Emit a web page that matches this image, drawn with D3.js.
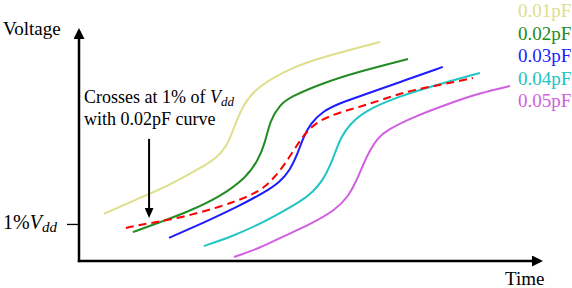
<!DOCTYPE html>
<html>
<head>
<meta charset="utf-8">
<script src="https://cdn.jsdelivr.net/npm/d3@7"></script>
<style>
  body { margin: 0; background: #fff; }
  svg { display: block; font-family: "Liberation Serif", "DejaVu Serif", serif; }
</style>
</head>
<body>
<div class="chart"></div>
<script>
// capacitance labels and their colours
const loadLabels = ['0.01pF', '0.02pF', '0.03pF', '0.04pF', '0.05pF']
const loadColors = ['#dede8c', '#228b22', '#1c1cff', '#22c4c4', '#d060e0']

// [time, voltage], both in 0..100 units
const curve001 = [[5.4, 20.2], [12.5, 26.6], [19.6, 32.6], [26.1, 39.9], [29.7, 44.2], [31.9, 49.4],
    [33.2, 56.2], [35.3, 67.0], [38.4, 74.7], [45.5, 82.8], [52.6, 87.6], [64.9, 94.0]]
const curve002 = [[11.6, 12.4], [17.5, 16.7], [23.3, 21.0], [30.4, 27.5], [36.2, 36.1], [38.6, 43.3],
    [40.1, 50.6], [41.2, 60.5], [43.3, 67.0], [45.5, 70.4], [52.6, 76.4], [59.9, 81.1], [70.9, 86.7]]
const curve003 = [[19.4, 9.9], [26.7, 16.3], [34.1, 23.2], [40.1, 29.6], [43.3, 33.9], [45.5, 39.1],
    [47.0, 45.5], [48.3, 52.8], [49.8, 58.8], [52.6, 64.4], [56.3, 67.8], [61.2, 71.2], [69.2, 76.8], [78.4, 83.3]]
const curve004 = [[26.9, 6.4], [33.2, 10.7], [39.0, 15.9], [43.3, 20.6], [47.6, 25.3], [50.4, 29.6],
    [52.6, 34.8], [54.1, 40.8], [55.4, 47.6], [56.5, 53.2], [58.4, 58.8], [61.6, 64.4], [68.5, 70.4],
    [77.8, 76.0], [86.4, 80.7]]
const curve005 = [[33.4, 1.7], [39.0, 5.6], [43.3, 9.9], [50.4, 16.3], [55.2, 21.9], [58.0, 27.5],
    [59.9, 34.8], [61.2, 41.2], [62.7, 47.6], [64.4, 52.8], [66.4, 56.2], [72.0, 61.8], [80.0, 67.8],
    [86.4, 72.1], [92.9, 75.1]]
// red dashed reference curve
const crossCurve = [[10.1, 14.2], [15.3, 16.3], [21.8, 18.5], [30.4, 23.2], [36.9, 27.9], [40.1, 31.8],
    [42.2, 36.1], [44.4, 41.6], [47.0, 49.8], [49.1, 55.8], [51.9, 60.5], [56.3, 63.9], [61.2, 66.5],
    [67.0, 70.4], [72.0, 73.4], [78.9, 76.0], [84.9, 78.5]]

const vddLevel = 15.9          // 1% Vdd tick
const pointerTime = 15.1       // annotation arrow
const pointerFrom = 52.4
const pointerTo = 18.5

class SketchChart {
    constructor() {
        this.fullWidth = 572
        this.fullHeight = 288
        this.curves = [curve001, curve002, curve003, curve004, curve005]
    }

    render() {
        this.svg = d3.select('.chart').append('svg')
            .attr('width', this.fullWidth)
            .attr('height', this.fullHeight)
        this.createMarkers()
        this.xScale = d3.scaleLinear().domain([0, 100]).range([79, 543])
        this.yScale = d3.scaleLinear().domain([0, 100]).range([261, 28])
        this.createAxes()
        this.createCurves()
        this.createLabels()
        this.createAnnotation()
    }

    createMarkers() {
        let defs = this.svg.append('defs')
        defs.append('marker')
            .attr('id', 'axisHead')
            .attr('viewBox', '0 0 11 11')
            .attr('refX', 8).attr('refY', 5.5)
            .attr('markerWidth', 11).attr('markerHeight', 11)
            .attr('markerUnits', 'userSpaceOnUse')
            .attr('orient', 'auto')
          .append('path').attr('d', 'M0,0L11,5.5L0,11Z').attr('fill', '#000')
        defs.append('marker')
            .attr('id', 'pointerHead')
            .attr('viewBox', '0 0 10 9')
            .attr('refX', 7).attr('refY', 4.5)
            .attr('markerWidth', 10).attr('markerHeight', 9)
            .attr('markerUnits', 'userSpaceOnUse')
            .attr('orient', 'auto')
          .append('path').attr('d', 'M0,0L10,4.5L0,9Z').attr('fill', '#000')
    }

    createAxes() {
        let x0 = this.xScale(0), y0 = this.yScale(0)
        this.svg.append('line')
            .attr('x1', x0).attr('y1', y0 + 1.2)
            .attr('x2', x0).attr('y2', this.yScale(100) + 3)
            .attr('stroke', '#000').attr('stroke-width', 2.5)
            .attr('marker-end', 'url(#axisHead)')
        this.svg.append('line')
            .attr('x1', x0 - 1.2).attr('y1', y0)
            .attr('x2', this.xScale(100) - 3).attr('y2', y0)
            .attr('stroke', '#000').attr('stroke-width', 2.5)
            .attr('marker-end', 'url(#axisHead)')

        // the single 1% Vdd tick
        let yAxis = d3.axisLeft(this.yScale)
            .tickValues([vddLevel])
            .tickSize(12)
            .tickSizeOuter(0)
            .tickFormat('')
        let g = this.svg.append('g')
            .attr('transform', `translate(${x0}, 0)`)
            .call(yAxis)
        g.select('.domain').remove()
        g.selectAll('.tick line').attr('stroke-width', 1.3)

        let lbl = this.svg.append('text')
            .attr('x', 57).attr('y', this.yScale(vddLevel) + 5)
            .attr('text-anchor', 'end')
            .attr('font-size', 20)
        lbl.append('tspan').text('1%')
        lbl.append('tspan').attr('font-style', 'italic').text('V')
        lbl.append('tspan').attr('font-style', 'italic').attr('font-size', 15).attr('dy', 3).text('dd')

        this.svg.append('text')
            .attr('x', 3).attr('y', 35)
            .attr('font-size', 19)
            .text('Voltage')
        this.svg.append('text')
            .attr('x', 505).attr('y', 285)
            .attr('font-size', 19)
            .text('Time')
    }

    createCurves() {
        let line = d3.line()
            .x(d => this.xScale(d[0]))
            .y(d => this.yScale(d[1]))
            .curve(d3.curveBasis)

        this.svg.selectAll('.cap')
            .data(this.curves)
            .join('path')
                .attr('class', 'cap')
                .attr('d', line)
                .attr('fill', 'none')
                .attr('stroke', (d, i) => loadColors[i])
                .attr('stroke-width', 2)

        this.svg.append('path')
            .attr('d', line(crossCurve))
            .attr('fill', 'none')
            .attr('stroke', '#ff0000')
            .attr('stroke-width', 2)
            .attr('stroke-dasharray', '8,5')
    }

    createLabels() {
        this.svg.selectAll('.cap-label')
            .data(loadLabels)
            .join('text')
                .attr('class', 'cap-label')
                .attr('x', 518)
                .attr('y', (d, i) => 17 + i * 22.6)
                .attr('font-size', 19)
                .attr('fill', (d, i) => loadColors[i])
                .text(d => d)
    }

    createAnnotation() {
        let t1 = this.svg.append('text')
            .attr('x', 84).attr('y', 103)
            .attr('font-size', 18)
        t1.append('tspan').text('Crosses at 1% of ')
        t1.append('tspan').attr('font-style', 'italic').text('V')
        t1.append('tspan').attr('font-style', 'italic').attr('font-size', 13).attr('dy', 3).text('dd')
        this.svg.append('text')
            .attr('x', 84).attr('y', 125)
            .attr('font-size', 18)
            .text('with 0.02pF curve')

        this.svg.append('line')
            .attr('x1', this.xScale(pointerTime)).attr('y1', this.yScale(pointerFrom))
            .attr('x2', this.xScale(pointerTime)).attr('y2', this.yScale(pointerTo) - 3)
            .attr('stroke', '#000').attr('stroke-width', 2)
            .attr('marker-end', 'url(#pointerHead)')
    }
}

new SketchChart().render()
</script>
</body>
</html>
